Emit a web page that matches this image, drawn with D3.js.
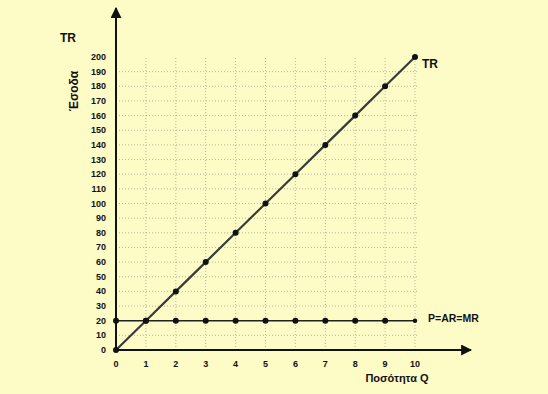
<!DOCTYPE html>
<html>
<head>
<meta charset="utf-8">
<script src="https://d3js.org/d3.v7.min.js"></script>
<style>
	body { margin: 0; background: #fdfbc6; }
	text { font-family: "Liberation Sans", Arial, sans-serif; font-weight: bold; fill: #111; }
	.tick-text { font-size: 9px; }
	.grid line { stroke: #8a8a80; stroke-width: 0.6; stroke-dasharray: 1,2; }
</style>
</head>
<body>
<div id="chart"></div>
<script>
	// data
	var quantity = [0, 1, 2, 3, 4, 5, 6, 7, 8, 9, 10];
	var totalRevenue = [0, 20, 40, 60, 80, 100, 120, 140, 160, 180, 200];
	var price = [20, 20, 20, 20, 20, 20, 20, 20, 20, 20, 20];
	var yTicks = d3.range(0, 201, 10);

	var width = 548, height = 394;

	var x = d3.scaleLinear().domain([0, 10]).range([116, 415]);
	var y = d3.scaleLinear().domain([0, 200]).range([350, 57]);

	var svg = d3.select("#chart").append("svg")
		.attr("width", width)
		.attr("height", height);

	svg.append("rect")
		.attr("width", width)
		.attr("height", height)
		.attr("fill", "#fdfbc6");

	// dotted grid
	var grid = svg.append("g").attr("class", "grid");
	grid.selectAll(".h")
		.data(yTicks.filter(function(d){ return d > 0 && d < 200; }))
		.enter().append("line")
		.attr("x1", x(0)).attr("x2", x(10) + 3)
		.attr("y1", function(d){ return y(d); })
		.attr("y2", function(d){ return y(d); });
	grid.selectAll(".v")
		.data(quantity.filter(function(d){ return d > 0; }))
		.enter().append("line")
		.attr("x1", function(d){ return x(d); })
		.attr("x2", function(d){ return x(d); })
		.attr("y1", y(0)).attr("y2", y(200));

	// axes with arrows
	var defs = svg.append("defs");
	defs.append("marker")
		.attr("id", "arrow")
		.attr("viewBox", "0 0 10 10")
		.attr("refX", 9).attr("refY", 5)
		.attr("markerWidth", 11).attr("markerHeight", 11)
		.attr("markerUnits", "userSpaceOnUse")
		.attr("orient", "auto")
		.append("path")
		.attr("d", "M0,0 L10,5 L0,10 Z")
		.attr("fill", "#111");

	svg.append("line")
		.attr("x1", x(0)).attr("y1", y(0))
		.attr("x2", x(0)).attr("y2", 8)
		.attr("stroke", "#111").attr("stroke-width", 2)
		.attr("marker-end", "url(#arrow)");
	svg.append("line")
		.attr("x1", x(0)).attr("y1", y(0))
		.attr("x2", 471).attr("y2", y(0))
		.attr("stroke", "#111").attr("stroke-width", 2)
		.attr("marker-end", "url(#arrow)");

	// tick labels
	svg.selectAll(".ylab")
		.data(yTicks)
		.enter().append("text")
		.attr("class", "tick-text")
		.attr("x", 106)
		.attr("y", function(d){ return y(d) + 3; })
		.attr("text-anchor", "end")
		.text(function(d){ return d; });
	svg.selectAll(".xlab")
		.data(quantity)
		.enter().append("text")
		.attr("class", "tick-text")
		.attr("x", function(d){ return x(d); })
		.attr("y", 367)
		.attr("text-anchor", "middle")
		.text(function(d){ return d; });

	// lines
	var line = d3.line()
		.x(function(d, i){ return x(quantity[i]); })
		.y(function(d){ return y(d); });

	svg.append("path")
		.datum(totalRevenue)
		.attr("d", line)
		.attr("fill", "none")
		.attr("stroke", "#3a3a3a")
		.attr("stroke-width", 2.2);
	svg.append("path")
		.datum(price)
		.attr("d", line)
		.attr("fill", "none")
		.attr("stroke", "#222")
		.attr("stroke-width", 1.5);

	svg.selectAll(".tr-dot")
		.data(totalRevenue)
		.enter().append("circle")
		.attr("cx", function(d, i){ return x(quantity[i]); })
		.attr("cy", function(d){ return y(d); })
		.attr("r", 3)
		.attr("fill", "#111");
	svg.selectAll(".p-dot")
		.data(price)
		.enter().append("circle")
		.attr("cx", function(d, i){ return x(quantity[i]); })
		.attr("cy", function(d){ return y(d); })
		.attr("r", function(d, i){ return i == 10 ? 2.2 : 3; })
		.attr("fill", "#111");

	// titles and labels
	svg.append("text")
		.attr("x", 60).attr("y", 42)
		.style("font-size", "12px")
		.text("TR");
	svg.append("text")
		.attr("transform", "translate(78,91) rotate(-90)")
		.attr("text-anchor", "middle")
		.style("font-size", "12px")
		.text("Έσοδα");
	svg.append("text")
		.attr("x", x(10) + 7).attr("y", y(200) + 11)
		.style("font-size", "12px")
		.text("TR");
	svg.append("text")
		.attr("x", x(10) + 13).attr("y", y(20) + 1)
		.style("font-size", "10.5px")
		.text("P=AR=MR");
	svg.append("text")
		.attr("x", 397).attr("y", 382)
		.attr("text-anchor", "middle")
		.style("font-size", "11px")
		.text("Ποσότητα Q");
</script>
</body>
</html>
